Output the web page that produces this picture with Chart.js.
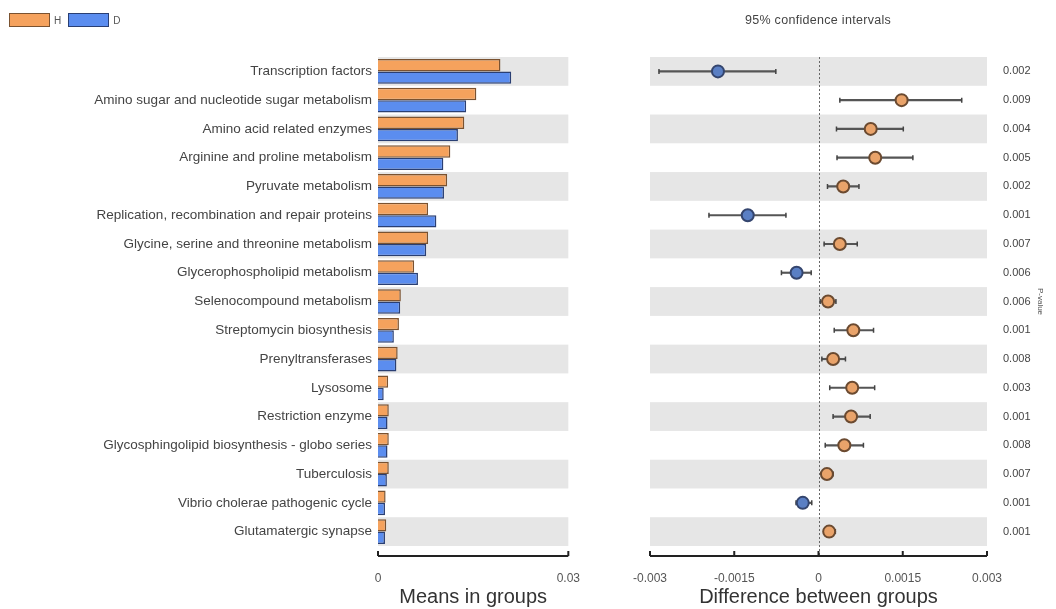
<!DOCTYPE html>
<html lang="en">
  <head>
    <meta charset="UTF-8" />
    <title>Extended error bar</title>
    <script src="https://cdn.jsdelivr.net/npm/chart.js@4.4.1/dist/chart.umd.min.js"></script>
    <style>
      html, body { margin: 0; padding: 0; background: #fff; }
      body {
        width: 1056px; height: 609px; position: relative; overflow: hidden;
        font-family: 'Liberation Sans', Arial, sans-serif;
      }
      #means-wrap { position: absolute; left: 0; top: 0; }
      #diff-wrap { position: absolute; left: 590px; top: 0; }
      .legend {
        position: absolute; left: 9px; top: 13px; display: flex; align-items: center;
        font-size: 10px; color: #555;
      }
      .swatch { width: 41px; height: 14px; box-sizing: border-box; border: 1.5px solid; }
      .legend span { margin: 0 7px 0 4px; }
      .ci-title {
        position: absolute; top: 13px; left: 718px; width: 200px; text-align: center;
        font-size: 12.5px; letter-spacing: 0.3px; color: #444;
      }
    </style>
  </head>
  <body>
    <!-- left canvas is a bit wider than its half: the tick padding eats space on the right -->
    <div id="means-wrap"><canvas id="means" width="605" height="609"></canvas></div>
    <div id="diff-wrap"><canvas id="diff" width="466" height="609"></canvas></div>
    <div class="legend">
      <div class="swatch" style="background:#f5a25d;border-color:#7a5230"></div><span>H</span>
      <div class="swatch" style="background:#5b8def;border-color:#2a3f73"></div><span>D</span>
    </div>
    <div class="ci-title">95% confidence intervals</div>

    <script>
      const pathways = [
        'Transcription factors',
        'Amino sugar and nucleotide sugar metabolism',
        'Amino acid related enzymes',
        'Arginine and proline metabolism',
        'Pyruvate metabolism',
        'Replication, recombination and repair proteins',
        'Glycine, serine and threonine metabolism',
        'Glycerophospholipid metabolism',
        'Selenocompound metabolism',
        'Streptomycin biosynthesis',
        'Prenyltransferases',
        'Lysosome',
        'Restriction enzyme',
        'Glycosphingolipid biosynthesis - globo series',
        'Tuberculosis',
        'Vibrio cholerae pathogenic cycle',
        'Glutamatergic synapse',
      ];
      const meanH = [0.0193, 0.0155, 0.0136, 0.0114, 0.0109, 0.0079, 0.0079, 0.0057,
        0.0036, 0.0033, 0.0031, 0.0016, 0.0017, 0.0017, 0.0017, 0.0012, 0.0013];
      const meanD = [0.0210, 0.0139, 0.0126, 0.0103, 0.0104, 0.0092, 0.0076, 0.0063,
        0.0035, 0.0025, 0.0029, 0.0009, 0.0015, 0.0015, 0.0014, 0.0011, 0.0011];
      const diffMean = [-0.00179, 0.00148, 0.00093, 0.00101, 0.00044, -0.00126, 0.00038, -0.00039,
        0.00017, 0.00062, 0.00026, 0.0006, 0.00058, 0.00046, 0.00015, -0.00028, 0.00019];
      const ciLow = [-0.00284, 0.00038, 0.00032, 0.00033, 0.00016, -0.00195, 0.0001, -0.00066,
        0.00003, 0.00028, 0.00006, 0.0002, 0.00026, 0.00012, 0.00006, -0.0004, 0.0001];
      const ciHigh = [-0.00076, 0.00255, 0.00151, 0.00168, 0.00072, -0.00058, 0.00069, -0.00013,
        0.00031, 0.00098, 0.00048, 0.001, 0.00092, 0.0008, 0.00026, -0.00012, 0.0003];
      const pValues = ['0.002', '0.009', '0.004', '0.005', '0.002', '0.001', '0.007', '0.006',
        '0.006', '0.001', '0.008', '0.003', '0.001', '0.008', '0.007', '0.001', '0.001'];
      const meansTicks = [0, 0.03];
      const diffTicks = [-0.003, -0.0015, 0, 0.0015, 0.003];

      // grey band behind every other row
      const rowBands = {
        id: 'rowBands',
        beforeDatasetsDraw(chart) {
          const { ctx, chartArea, scales: { y } } = chart;
          const half = (y.getPixelForValue(1) - y.getPixelForValue(0)) / 2;
          ctx.save();
          ctx.fillStyle = '#e6e6e6';
          pathways.forEach((p, i) => {
            if (i % 2) return;
            const c = y.getPixelForValue(i);
            ctx.fillRect(chartArea.left, c - half, chartArea.right - chartArea.left, half * 2);
          });
          ctx.restore();
        },
      };

      const zeroLine = {
        id: 'zeroLine',
        beforeDatasetsDraw(chart) {
          const { ctx, chartArea, scales: { x } } = chart;
          const px = Math.round(x.getPixelForValue(0)) + 0.5;
          ctx.save();
          ctx.strokeStyle = '#666';
          ctx.lineWidth = 1;
          ctx.setLineDash([2, 2]);
          ctx.beginPath();
          ctx.moveTo(px, chartArea.top);
          ctx.lineTo(px, chartArea.bottom + 10);
          ctx.stroke();
          ctx.restore();
        },
      };

      // axis line sits a little below the plot, ticks point up
      const bottomAxis = {
        id: 'bottomAxis',
        afterDraw(chart) {
          const { ctx, chartArea, scales: { x } } = chart;
          const yy = chartArea.bottom + 10;
          ctx.save();
          ctx.strokeStyle = '#222';
          ctx.lineWidth = 2;
          ctx.beginPath();
          ctx.moveTo(x.left, yy);
          ctx.lineTo(x.right, yy);
          x.ticks.forEach((t) => {
            const px = x.getPixelForValue(t.value);
            ctx.moveTo(px, yy);
            ctx.lineTo(px, yy - 5);
          });
          ctx.stroke();
          ctx.restore();
        },
      };

      const tickColor = '#555';

      new Chart(document.getElementById('means'), {
        type: 'bar',
        data: {
          labels: pathways,
          datasets: [
            {
              label: 'H', data: meanH, backgroundColor: '#f5a25d', borderColor: '#7a5230',
              borderWidth: 1.5, barPercentage: 1, categoryPercentage: 0.86,
            },
            {
              label: 'D', data: meanD, backgroundColor: '#5b8def', borderColor: '#2a3f73',
              borderWidth: 1.5, barPercentage: 1, categoryPercentage: 0.86,
            },
          ],
        },
        options: {
          responsive: false,
          animation: false,
          indexAxis: 'y',
          layout: { padding: { top: 57, right: 8, bottom: 0, left: 0 } },
          plugins: { legend: { display: false }, tooltip: { enabled: false } },
          scales: {
            x: {
              min: 0, max: 0.03,
              grid: { display: false, drawTicks: false },
              border: { display: false },
              afterBuildTicks: (s) => { s.ticks = meansTicks.map((v) => ({ value: v })); },
              afterFit: (s) => { s.height = 63; },
              ticks: { padding: 25, color: tickColor, font: { size: 12 }, maxRotation: 0, callback: (v) => String(v) },
              title: { display: true, text: 'Means in groups', color: '#333', font: { size: 20 }, padding: 0 },
            },
            y: {
              grid: { display: false, drawTicks: false },
              border: { display: false },
              afterFit: (s) => { s.width = 378; },
              ticks: { padding: 6, color: '#444', font: { size: 13.5 }, autoSkip: false },
            },
          },
        },
        plugins: [rowBands, bottomAxis],
      });

      const capPoints = [];
      pathways.forEach((p, i) => {
        capPoints.push({ x: ciLow[i], y: p }, { x: ciHigh[i], y: p });
      });

      new Chart(document.getElementById('diff'), {
        type: 'bar',
        data: {
          labels: pathways,
          datasets: [
            {
              type: 'scatter',
              data: diffMean.map((v, i) => ({ x: v, y: pathways[i] })),
              pointRadius: 6,
              pointBackgroundColor: diffMean.map((v) => (v > 0 ? '#e9a36a' : '#5a7fc4')),
              pointBorderColor: diffMean.map((v) => (v > 0 ? '#6b4a30' : '#34456e')),
              pointBorderWidth: 2,
              order: 0,
            },
            {
              type: 'scatter',
              data: capPoints,
              pointStyle: 'line',
              rotation: 90,
              pointRadius: 2.5,
              pointBorderColor: '#444',
              pointBorderWidth: 1.5,
              order: 1,
            },
            {
              type: 'bar',
              data: ciLow.map((v, i) => [v, ciHigh[i]]),
              backgroundColor: '#555',
              barThickness: 1.5,
              order: 2,
            },
          ],
        },
        options: {
          responsive: false,
          animation: false,
          indexAxis: 'y',
          layout: { padding: { top: 57, right: 0, bottom: 0, left: 60 } },
          plugins: { legend: { display: false }, tooltip: { enabled: false } },
          scales: {
            x: {
              min: -0.003, max: 0.003,
              grid: { display: false, drawTicks: false },
              border: { display: false },
              afterBuildTicks: (s) => { s.ticks = diffTicks.map((v) => ({ value: v })); },
              afterFit: (s) => { s.height = 63; },
              ticks: { padding: 25, color: tickColor, font: { size: 12 }, maxRotation: 0, callback: (v) => String(v) },
              title: { display: true, text: 'Difference between groups', color: '#333', font: { size: 20 }, padding: 0 },
            },
            y: { display: false, offset: true },
            p: {
              type: 'category',
              position: 'right',
              labels: pValues,
              offset: true,
              grid: { display: false, drawTicks: false },
              border: { display: false },
              afterFit: (s) => { s.width = 69; },
              ticks: { padding: 16, color: '#444', font: { size: 11 }, autoSkip: false },
              title: { display: true, text: 'P-value', color: '#555', font: { size: 8 }, padding: { top: 11, bottom: 0 } },
            },
          },
        },
        plugins: [rowBands, zeroLine, bottomAxis],
      });
    </script>
  </body>
</html>
